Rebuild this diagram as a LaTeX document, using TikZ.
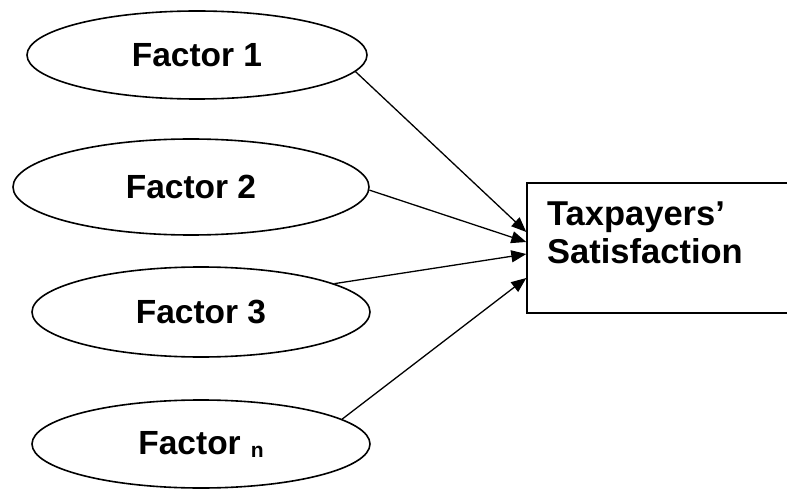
\documentclass[tikz,border=0pt]{standalone}
\usepackage{fontspec}
\setmainfont{Liberation Sans}
\usetikzlibrary{shapes.geometric,arrows.meta}
\begin{document}
\begin{tikzpicture}[x=1pt,y=-1pt,
  factor/.style={draw, ellipse, line width=1.6pt, inner sep=0pt,
    font=\fontsize{33.5}{38}\selectfont\bfseries},
  outbox/.style={draw, rectangle, line width=1.4pt, inner sep=0pt},
  link/.style={line width=1.3pt, -{Triangle[length=15pt,width=12pt]}}]
\clip (0,0) rectangle (787,489);
\node[factor, minimum width=340pt, minimum height=88pt] (f1) at (197,55) {Factor 1};
\node[factor, minimum width=356pt, minimum height=96pt] (f2) at (191,187) {Factor 2};
\node[factor, minimum width=338pt, minimum height=90pt] (f3) at (201,312) {Factor 3};
\node[factor, minimum width=338pt, minimum height=88pt] (f4) at (201,444)
  {Factor\hspace{10pt}\raisebox{-3pt}{\fontsize{21}{21}\selectfont n}};
\node[outbox, minimum width=280pt, minimum height=130pt] (box) at (667,248) {};
\node[anchor=north west, align=left, inner sep=0pt,
  font=\fontsize{34.5}{38}\selectfont\bfseries] (sat) at (547,202)
  {Taxpayers’\\Satisfaction};
\draw[link] (f1.-6) -- ([yshift=16pt]box.west);
\draw[link] (f2.-1) -- ([yshift=6pt]box.west);
\draw[link] (f3.12) -- ([yshift=-6pt]box.west);
\draw[link] (f4.10) -- ([yshift=-30pt]box.west);
\end{tikzpicture}
\end{document}
